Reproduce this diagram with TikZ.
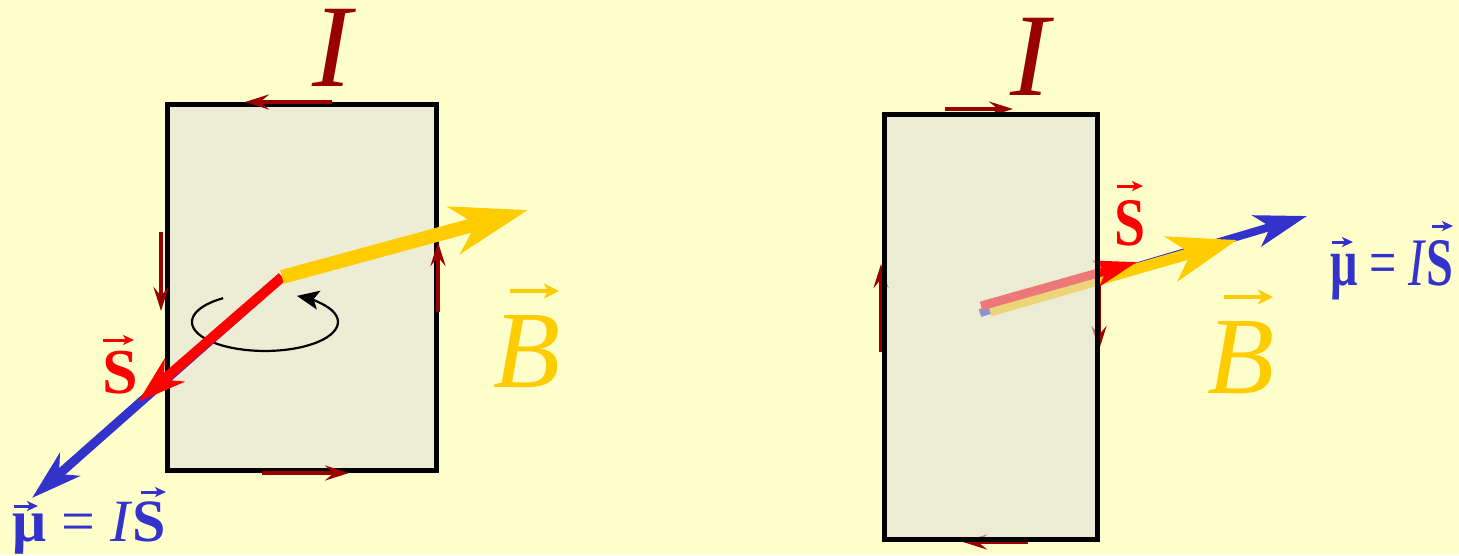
\documentclass[tikz,border=0pt]{standalone}
\usepackage{fontspec}
\setmainfont{Liberation Serif}
\usetikzlibrary{arrows.meta}
\definecolor{bg}{HTML}{FFFFCC}
\definecolor{plate}{RGB}{237,237,213}
\definecolor{platet}{RGB}{222,222,220}
\definecolor{cur}{HTML}{990000}
\definecolor{vred}{HTML}{FF0000}
\definecolor{vyel}{HTML}{FFCC00}
\definecolor{vblue}{HTML}{3333CC}
\tikzset{
  curarrow/.style={draw=cur, line width=4.5pt, -{Stealth[length=24pt,width=15pt,inset=9pt]}},
  loopbox/.style={draw=black, line width=5pt},
  lbl/.style={inner sep=0pt, anchor=base},
  accS/.style={line width=3pt, -{Stealth[length=11pt,width=10pt,inset=3pt]}},
  accB/.style={line width=4.5pt, -{Stealth[length=15pt,width=15pt,inset=4pt]}},
  yvecL/.style={draw=vyel, line width=14pt, -{Stealth[length=76pt,width=48pt,inset=22pt]}},
  rvecL/.style={draw=vred, line width=10pt, -{Stealth[length=48pt,width=30pt,inset=14pt]}},
  bvecL/.style={draw=vblue, line width=9pt, -{Stealth[length=50pt,width=30pt,inset=14pt]}},
  yvecR/.style={draw=vyel, line width=11pt, -{Stealth[length=68pt,width=46pt,inset=20pt]}},
  rvecR/.style={draw=vred, line width=9pt, -{Stealth[length=42pt,width=26pt,inset=10pt]}},
  bvecR/.style={draw=vblue, line width=8pt, -{Stealth[length=52pt,width=32pt,inset=14pt]}},
  spin/.style={draw=black, line width=2.2pt, -{Stealth[length=22pt,width=19pt,inset=5pt]}},
}
\begin{document}
\begin{tikzpicture}[x=1pt,y=-1pt]
\fill[bg] (0,0) rectangle (1459,555);
\useasboundingbox (0,0) rectangle (1459,555);

% ---------------- left loop ----------------
\draw[loopbox, fill=plate] (167,104.5) rectangle (436,470.5);
\coordinate (lt1) at (332,102); \coordinate (lt2) at (245,102);
\coordinate (ll1) at (161,232); \coordinate (ll2) at (161,311);
\coordinate (lr1) at (438,312); \coordinate (lr2) at (438,242);
\coordinate (lb1) at (262,473); \coordinate (lb2) at (349,473);
\draw[curarrow] (lt1) -- (lt2);
\draw[curarrow] (ll1) -- (ll2);
\draw[curarrow] (lr1) -- (lr2);
\draw[curarrow] (lb1) -- (lb2);

\coordinate (e1) at (223.1,298.2);
\draw[spin] (e1) arc[start angle=235, end angle=-64, x radius=73, y radius=29];

\coordinate (L0) at (282,277);
\coordinate (Lmu) at (32,498);
\coordinate (LS) at (138,402);
\coordinate (LB) at (528,210);
\draw[bvecL] (L0) -- (Lmu);
\draw[rvecL] (L0) -- (LS);
\draw[yvecL] (L0) -- (LB);

\node[lbl, text=cur, font=\fontsize{118}{120}\selectfont\itshape] (LI) at (332,86) {I};
\node[lbl, text=vyel, font=\fontsize{110}{112}\selectfont\itshape] (LBl) at (527,387) {B};
\node[lbl, text=vred, font=\fontsize{64}{66}\selectfont\bfseries] (LSl) at (120,393) {S};
\node[lbl, text=vblue, font=\fontsize{60}{62}\selectfont] (Lmul) at (89,541)
  {\textbf{μ} = \textit{I}\textbf{S}};
\coordinate (aLB1) at (510,291); \coordinate (aLB2) at (559,291);
\coordinate (aLS1) at (103,340); \coordinate (aLS2) at (134,340);
\coordinate (aLm1) at (14,506);  \coordinate (aLm2) at (38,506);
\coordinate (aLs1) at (141,492); \coordinate (aLs2) at (166,492);
\draw[accB, draw=vyel] (aLB1) -- (aLB2);
\draw[accS, draw=vred] (aLS1) -- (aLS2);
\draw[accS, draw=vblue] (aLm1) -- (aLm2);
\draw[accS, draw=vblue] (aLs1) -- (aLs2);

% ---------------- right loop ----------------
\coordinate (rt1) at (945,109); \coordinate (rt2) at (1013,109);
\coordinate (rl1) at (881,352); \coordinate (rl2) at (881,264);
\coordinate (rr1) at (1099,280); \coordinate (rr2) at (1099,350);
\coordinate (rb1) at (1028,542); \coordinate (rb2) at (963,542);
\draw[curarrow] (rt1) -- (rt2);
\draw[curarrow] (rl1) -- (rl2);
\draw[curarrow] (rr1) -- (rr2);
\draw[curarrow] (rb1) -- (rb2);

\coordinate (Rb0) at (980,313); \coordinate (Rmu) at (1307,216);
\coordinate (Ry0) at (990,311); \coordinate (RB) at (1237,240);
\coordinate (Rr0) at (981,306); \coordinate (RS) at (1137,262);
\draw[bvecR] (Rb0) -- (Rmu);
\draw[yvecR] (Ry0) -- (RB);
\draw[rvecR] (Rr0) -- (RS);

\fill[platet, fill opacity=0.55] (884,114) rectangle (1097,539.5);
\draw[loopbox] (884,114) rectangle (1097,539.5);

\node[lbl, text=cur, font=\fontsize{118}{120}\selectfont\itshape] (RI) at (1030,95) {I};
\node[lbl, text=vyel, font=\fontsize{110}{112}\selectfont\itshape] (RBl) at (1241,393) {B};
\node[lbl, text=vred, font=\fontsize{68}{70}\selectfont\bfseries] (RSl) at (1130,245) {\scalebox{0.82}[1]{S}};
\node[lbl, text=vblue, font=\fontsize{68}{70}\selectfont] (Rmul) at (1392,285)
  {\scalebox{0.71}[1]{\textbf{μ} = \textit{I}\textbf{S}}};
\coordinate (aRB1) at (1224,297); \coordinate (aRB2) at (1273,297);
\coordinate (aRS1) at (1117,186); \coordinate (aRS2) at (1143,186);
\coordinate (aRm1) at (1332,242); \coordinate (aRm2) at (1353,242);
\coordinate (aRs1) at (1432,226); \coordinate (aRs2) at (1453,226);
\draw[accB, draw=vyel] (aRB1) -- (aRB2);
\draw[accS, draw=vred] (aRS1) -- (aRS2);
\draw[accS, draw=vblue] (aRm1) -- (aRm2);
\draw[accS, draw=vblue] (aRs1) -- (aRs2);
\end{tikzpicture}
\end{document}
